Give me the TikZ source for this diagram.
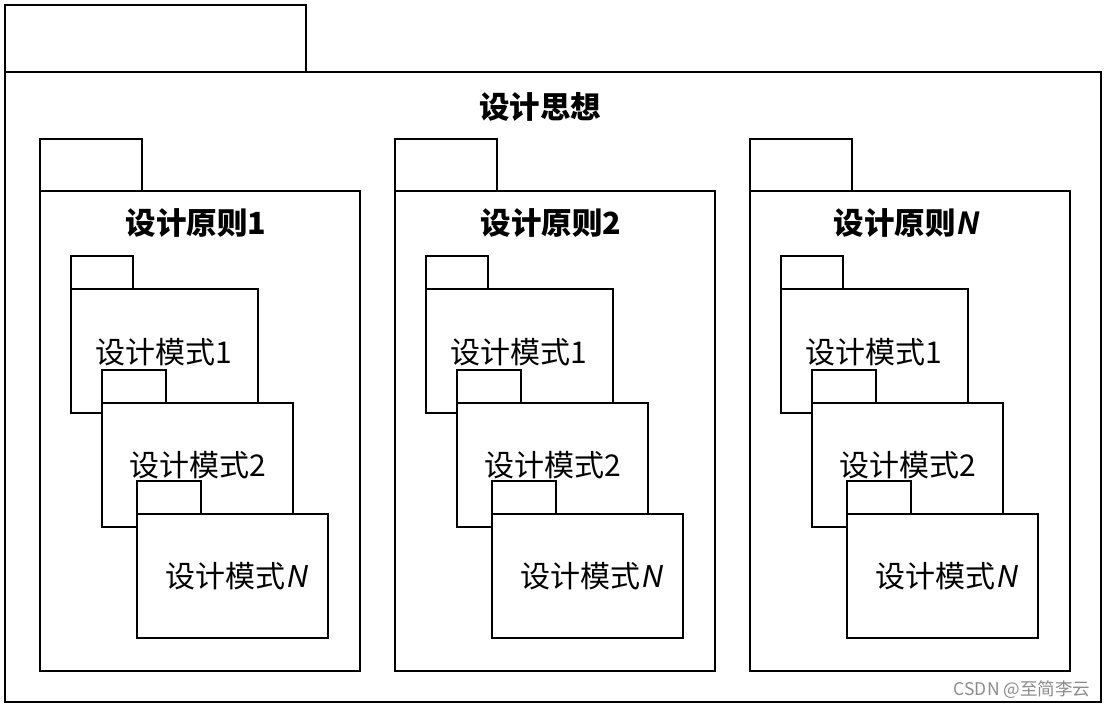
\documentclass[tikz,border=0pt]{standalone}
\usepackage{fontspec}
\newfontfamily\cjk[AutoFakeSlant=0.2, BoldItalicFont={Noto Sans CJK SC Bold}, BoldItalicFeatures={FakeSlant=0.2}]{Noto Sans CJK SC}
\begin{document}
\begin{tikzpicture}[x=1pt,y=-1pt,
  box/.style={draw=black, fill=white, anchor=north west, inner sep=0pt, outer sep=0pt, line width=1.8pt},
  ttl/.style={font=\cjk\bfseries\fontsize{30.5}{32}\selectfont, inner sep=0pt},
  lbl/.style={font=\cjk\fontsize{30}{32}\selectfont, inner sep=0pt},
  wmark/.style={font=\cjk\fontsize{17.5}{19}\selectfont, text=black!45, inner sep=0pt}]
\useasboundingbox (0,0) rectangle (1106,707);
\fill[white] (0,0) rectangle (1106,707);
% outer package
\node[box, minimum width=301pt, minimum height=67pt] (otab) at (5,5) {};
\node[box, minimum width=1096pt, minimum height=630pt] (outer) at (5,72) {};
\node[ttl] (othink) at (540,107) {设计思想};
\foreach \i/\dx/\t in {1/0/1, 2/355/2, 3/710/{\textit{N}}}{
  \node[box, minimum width=102pt, minimum height=52pt] (ptab\i) at (40+\dx,139) {};
  \node[box, minimum width=320pt, minimum height=480pt] (p\i) at (40+\dx,191) {};
  \node[ttl] (pt\i) at (196+\dx,223) {设计原则\t};
  % module 1
  \node[box, minimum width=62pt, minimum height=33.6pt] (ma\i tab) at (70.7+\dx,255.7) {};
  \node[box, minimum width=187pt, minimum height=124pt] (ma\i) at (70.7+\dx,289.3) {};
  \node[lbl] (mal\i) at (164+\dx,352) {设计模式1};
  % module 2
  \node[box, minimum width=64pt, minimum height=33pt] (mb\i tab) at (101.7+\dx,370) {};
  \node[box, minimum width=191.6pt, minimum height=123.7pt] (mb\i) at (101.7+\dx,403) {};
  \node[lbl] (mbl\i) at (198+\dx,465.5) {设计模式2};
  % module N
  \node[box, minimum width=63.7pt, minimum height=33.3pt] (mc\i tab) at (137.3+\dx,480.7) {};
  \node[box, minimum width=191pt, minimum height=123.7pt] (mc\i) at (137.3+\dx,514) {};
  \node[lbl] (mcl\i) at (236+\dx,576) {设计模式\textit{N}};
}
\node[wmark] (wm) at (1022,690) {CSDN @至简李云};
\end{tikzpicture}
\end{document}
